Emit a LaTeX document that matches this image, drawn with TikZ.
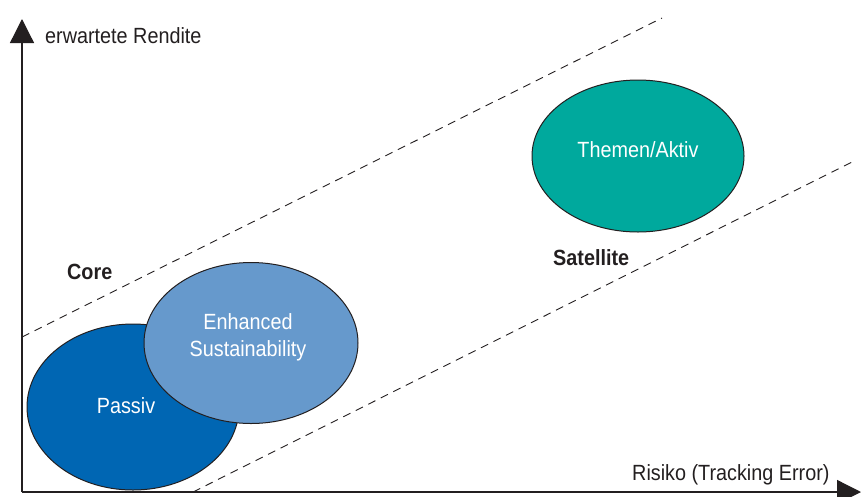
\documentclass[tikz,border=0pt]{standalone}
\usepackage{fontspec}
\setmainfont{Liberation Sans}[FakeStretch=0.9]
\usetikzlibrary{shapes.geometric,arrows.meta}
\definecolor{passivblue}{RGB}{0,102,179}
\definecolor{enhblue}{RGB}{102,153,204}
\definecolor{themeteal}{RGB}{0,169,157}
\definecolor{ink}{RGB}{35,31,32}
\begin{document}
\begin{tikzpicture}[x=1pt,y=-1pt,
  blob/.style={ellipse, draw=ink, line width=1pt, inner sep=0pt},
  etext/.style={text=white, font=\fontsize{22}{27}\selectfont, align=center, inner sep=0pt},
  axtext/.style={text=ink, font=\fontsize{22}{24}\selectfont, inner sep=0pt},
  boldtext/.style={text=ink, font=\fontsize{22}{24}\selectfont\bfseries, inner sep=0pt},
  guide/.style={draw=ink, line width=0.9pt, dash pattern=on 8pt off 6pt},
  axis/.style={draw=ink, line width=1.3pt, -{Triangle[length=24pt,width=24pt]}}]
\useasboundingbox (0,0) rectangle (866,496);
% guide lines
\coordinate (g1a) at (22,337);
\coordinate (g1b) at (662,18);
\coordinate (g2a) at (193,492);
\coordinate (g2b) at (856,160);
\draw[guide] (g1a) -- (g1b);
\draw[guide] (g2a) -- (g2b);
% ellipses
\node[blob, fill=passivblue, minimum width=212pt, minimum height=166pt] (passiv) at (133,407) {};
\node[blob, fill=enhblue, minimum width=214pt, minimum height=161pt] (enh) at (251,343) {};
\node[blob, fill=themeteal, minimum width=212pt, minimum height=152pt] (themen) at (638,156) {};
\node[etext] (tpassiv) at ([xshift=-7pt,yshift=1pt]passiv.center) {Passiv};
\node[etext] (tenh) at ([xshift=-3pt,yshift=6pt]enh.center) {Enhanced\\Sustainability};
\node[etext] (tthemen) at ([yshift=6pt]themen.center) {Themen/Aktiv};
% axes
\coordinate (o) at (22,492);
\coordinate (ytip) at (22,19);
\coordinate (xtip) at (861,492);
\draw[axis] (o) -- (ytip);
\draw[axis] (o) -- (xtip);
% labels
\node[axtext, anchor=base west] (ylab) at (45,43) {erwartete Rendite};
\node[axtext, anchor=base west] (xlab) at (632,480) {Risiko (Tracking Error)};
\node[boldtext, anchor=base west] (core) at (67,279) {Core};
\node[boldtext, anchor=base west] (sat) at (553,265) {Satellite};
\end{tikzpicture}
\end{document}
